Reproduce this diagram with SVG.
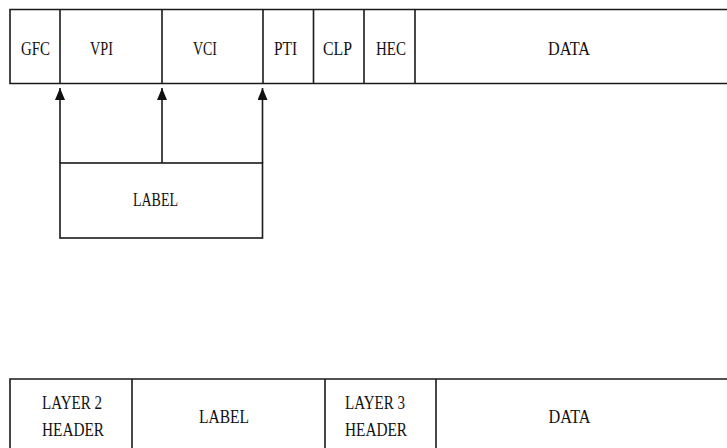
<svg xmlns="http://www.w3.org/2000/svg" width="727" height="448" viewBox="0 0 727 448">
<style>
.b{fill:none;stroke:#1a1a1a;stroke-width:1.6}
.t{font-family:"Liberation Serif","Times New Roman",serif;font-size:18.5px;fill:#111;text-anchor:middle}
.c{stroke:#1a1a1a;stroke-width:1.6;fill:none}
</style>
<defs>
<marker id="ah" viewBox="0 0 12 10" refX="12" refY="5" markerWidth="12" markerHeight="10" markerUnits="userSpaceOnUse" orient="auto">
<path d="M0,0 L12,5 L0,10 Z" fill="#111"/>
</marker>
</defs>
<rect width="727" height="448" fill="#fff"/>
<g id="atm-cell">
<path class="b" d="M728,9.5 H10 V83.5 H728"/>
<g id="gfc"><line class="b" x1="60" y1="9.5" x2="60" y2="83.5"/><text class="t" x="35.5" y="55" textLength="29" lengthAdjust="spacingAndGlyphs">GFC</text></g>
<g id="vpi"><line class="b" x1="162" y1="9.5" x2="162" y2="83.5"/><text class="t" x="101.5" y="55" textLength="23" lengthAdjust="spacingAndGlyphs">VPI</text></g>
<g id="vci"><line class="b" x1="263" y1="9.5" x2="263" y2="83.5"/><text class="t" x="205" y="55" textLength="24" lengthAdjust="spacingAndGlyphs">VCI</text></g>
<g id="pti"><line class="b" x1="313.5" y1="9.5" x2="313.5" y2="83.5"/><text class="t" x="285.5" y="55" textLength="23" lengthAdjust="spacingAndGlyphs">PTI</text></g>
<g id="clp"><line class="b" x1="364" y1="9.5" x2="364" y2="83.5"/><text class="t" x="337.5" y="55" textLength="29" lengthAdjust="spacingAndGlyphs">CLP</text></g>
<g id="hec"><line class="b" x1="415" y1="9.5" x2="415" y2="83.5"/><text class="t" x="391" y="55" textLength="30" lengthAdjust="spacingAndGlyphs">HEC</text></g>
<g id="data-top"><text class="t" x="569" y="55" textLength="42" lengthAdjust="spacingAndGlyphs">DATA</text></g>
</g>
<g id="label-box">
<rect class="b" x="60" y="163" width="202.5" height="75"/>
<text class="t" x="155.5" y="206" textLength="45" lengthAdjust="spacingAndGlyphs">LABEL</text>
</g>
<g id="connectors">
<line class="c" x1="60" y1="163" x2="60" y2="88" marker-end="url(#ah)"/>
<line class="c" x1="162" y1="163" x2="162" y2="88" marker-end="url(#ah)"/>
<line class="c" x1="262.5" y1="163" x2="262.5" y2="88" marker-end="url(#ah)"/>
</g>
<g id="packet">
<path class="b" d="M728,379 H10 V449"/>
<g id="l2"><line class="b" x1="132" y1="379" x2="132" y2="449"/>
<text class="t" x="72" y="409" textLength="60" lengthAdjust="spacingAndGlyphs">LAYER 2</text>
<text class="t" x="73" y="436" textLength="62" lengthAdjust="spacingAndGlyphs">HEADER</text></g>
<g id="label-bottom"><line class="b" x1="325" y1="379" x2="325" y2="449"/>
<text class="t" x="224" y="423" textLength="50" lengthAdjust="spacingAndGlyphs">LABEL</text></g>
<g id="l3"><line class="b" x1="436" y1="379" x2="436" y2="449"/>
<text class="t" x="375" y="409" textLength="60" lengthAdjust="spacingAndGlyphs">LAYER 3</text>
<text class="t" x="376" y="436" textLength="62" lengthAdjust="spacingAndGlyphs">HEADER</text></g>
<g id="data-bottom"><text class="t" x="569.5" y="423" textLength="42" lengthAdjust="spacingAndGlyphs">DATA</text></g>
</g>
</svg>
